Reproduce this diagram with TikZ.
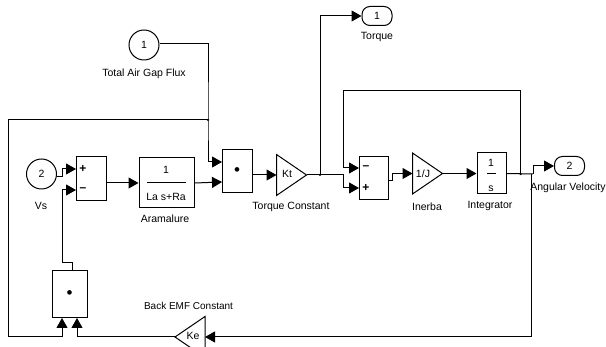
\documentclass[tikz,border=0pt]{standalone}
\usepackage{fontspec}
\setmainfont{Liberation Sans}
\usetikzlibrary{arrows.meta,shapes.geometric,calc}
\tikzset{
  wire/.style={draw=black,line width=1pt},
  flow/.style={wire,-{Triangle[length=10pt,width=11pt]}},
  blockbox/.style={draw=black,line width=1pt,rectangle,inner sep=0pt},
  port/.style={draw=black,line width=1pt,circle,inner sep=0pt,minimum size=30pt,font=\fontsize{10.5}{11}\selectfont},
  outport/.style={draw=black,line width=1pt,rectangle,rounded corners=8pt,inner sep=0pt,minimum width=30pt,minimum height=19pt,font=\fontsize{10.5}{11}\selectfont},
  gain/.style={draw=black,line width=1pt,isosceles triangle,isosceles triangle stretches=true,inner sep=0pt,outer sep=0pt,minimum height=30pt,minimum width=41pt,anchor=apex},
  caption text/.style={font=\fontsize{10.5}{11}\selectfont,inner sep=0pt},
  sign/.style={font=\fontsize{12}{12}\selectfont\bfseries,inner sep=0pt},
  product dot/.style={font=\fontsize{17}{17}\selectfont},
  joint/.style={circle,fill=black,inner sep=0pt,minimum size=2.5pt}
}
\begin{document}
\begin{tikzpicture}[x=1pt,y=-1pt]
\useasboundingbox (0,0) rectangle (606,347);
\clip (0,0) rectangle (606,347);
% blocks
\node[port] (flux) at (144,45) {1};
\node[port] (vs) at (41.5,174) {2};
\node[blockbox,minimum width=30pt,minimum height=44pt] (sumA) at (91,179) {};
\node[blockbox,minimum width=55pt,minimum height=50pt] (arm) at (166.5,183) {};
\node[blockbox,product dot,minimum width=30pt,minimum height=43pt] (prodA) at (237,171.5) {•};
\node[gain] (kt) at (306.5,175) {};
\node[blockbox,minimum width=29pt,minimum height=43pt] (sumB) at (373.5,178) {};
\node[gain] (inertia) at (442.5,173.5) {};
\node[blockbox,minimum width=29pt,minimum height=41pt] (integ) at (491.5,173.5) {};
\node[outport] (torque) at (377,16) {1};
\node[outport] (omega) at (569.5,166) {2};
\node[blockbox,product dot,minimum width=35pt,minimum height=47pt] (prodB) at (69.5,294.5) {•};
\node[gain,shape border rotate=180] (ke) at (175,337) {};
% block texts
\node[caption text] (armN) at (166,170) {1};
\node[caption text] (armD) at (166,197) {La s+Ra};
\coordinate (armL) at (147,183); \coordinate (armR) at (186,183);
\draw[wire] (armL) -- (armR);
\node[caption text] (intN) at (491,163) {1};
\node[caption text] (intD) at (491,189) {s};
\coordinate (intL) at (487,174); \coordinate (intR) at (496,174);
\draw[wire] (intL) -- (intR);
\node[caption text] (ktT) at (287,174) {Kt};
\node[caption text] (jT) at (423,174) {1/J};
\node[caption text] (keT) at (193,336) {Ke};
\node[sign] (s1) at (83,169) {+};
\node[sign] (s2) at (83,190) {–};
\node[sign] (s3) at (366,168) {–};
\node[sign] (s4) at (366,188) {+};
% captions
\node[caption text] (c1) at (144,74) {Total Air Gap Flux};
\node[caption text] (c2) at (41,206) {Vs};
\node[caption text] (c3) at (165,219) {Aramalure};
\node[caption text] (c4) at (291,207) {Torque Constant};
\node[caption text] (c5) at (377,37) {Torque};
\node[caption text] (c6) at (427,207) {Inerba};
\node[caption text] (c7) at (490,206) {Integrator};
\node[caption text] (c8) at (568,188) {Angular Velocity};
\node[caption text,font=\fontsize{10}{11}\selectfont] (c9) at (188.5,306) {Back EMF Constant};
% routing points
\coordinate (fluxR) at (208,44);
\coordinate (j1) at (208,120);
\coordinate (prodAtop) at (222,162);
\coordinate (prodAbot) at (222,182);
\coordinate (fbNW) at (8,120);
\coordinate (fbSW) at (8,337);
\coordinate (pBin1) at (62,318);
\coordinate (pBin2) at (77,318);
\coordinate (vsA) at (62,177);
\coordinate (sAin1) at (76,169);
\coordinate (sAin2) at (76,190);
\coordinate (pBup) at (72,263);
\coordinate (pBup2) at (62,263);
\coordinate (j2) at (320,175);
\coordinate (sBin1) at (359,168);
\coordinate (sBin2) at (359,188);
\coordinate (fbTop1) at (343,91);
\coordinate (fbTop2) at (520.5,91);
\coordinate (j3) at (520.5,174);
\coordinate (j4) at (531,174);
\coordinate (swS) at (531,337);
\coordinate (sBout) at (388,181);
\coordinate (sBstep) at (392,181);
\coordinate (omStep) at (533,174);
% connectors
\draw[flow] (flux.east |- fluxR) -- (fluxR) -- (j1) |- (prodAtop);
\draw[flow] (j1) -- (fbNW) -- (fbSW) -| (pBin1);
\draw[flow] (ke.apex) -| (pBin2);
\draw[flow] (swS) -- (ke.lower side);
\draw[wire] (j4) -- (swS);
\draw[flow] (pBup |- prodB.north) -- (pBup) -- (pBup2) |- (sAin2);
\draw[flow] (vs.east |- vsA) -- (vsA) |- (sAin1);
\draw[flow] (sumA.east |- arm.west) -- (arm.west);
\draw[flow] (arm.east) -- (prodAbot);
\draw[flow] (prodA.east |- kt.lower side) -- (kt.lower side);
\draw[wire] (kt.apex) -- (j2);
\draw[flow] (j2) |- (torque.west);
\draw[flow] (j2) -- (j2 -| fbTop1) |- (sBin2);
\draw[flow] (fbTop2) -- (fbTop1) |- (sBin1);
\draw[wire] (j3) -- (fbTop2);
\draw[flow] (sBout) -- (sBstep) |- (inertia.lower side);
\draw[flow] (inertia.apex) -- (integ.west);
\draw[wire] (integ.east) -- (omStep);
\draw[flow] (omStep) |- (omega.west);
\node[joint] (dot1) at (j1) {};
\node[joint] (dot2) at (j2) {};
\node[joint] (dot3) at (j3) {};
\end{tikzpicture}
\end{document}
